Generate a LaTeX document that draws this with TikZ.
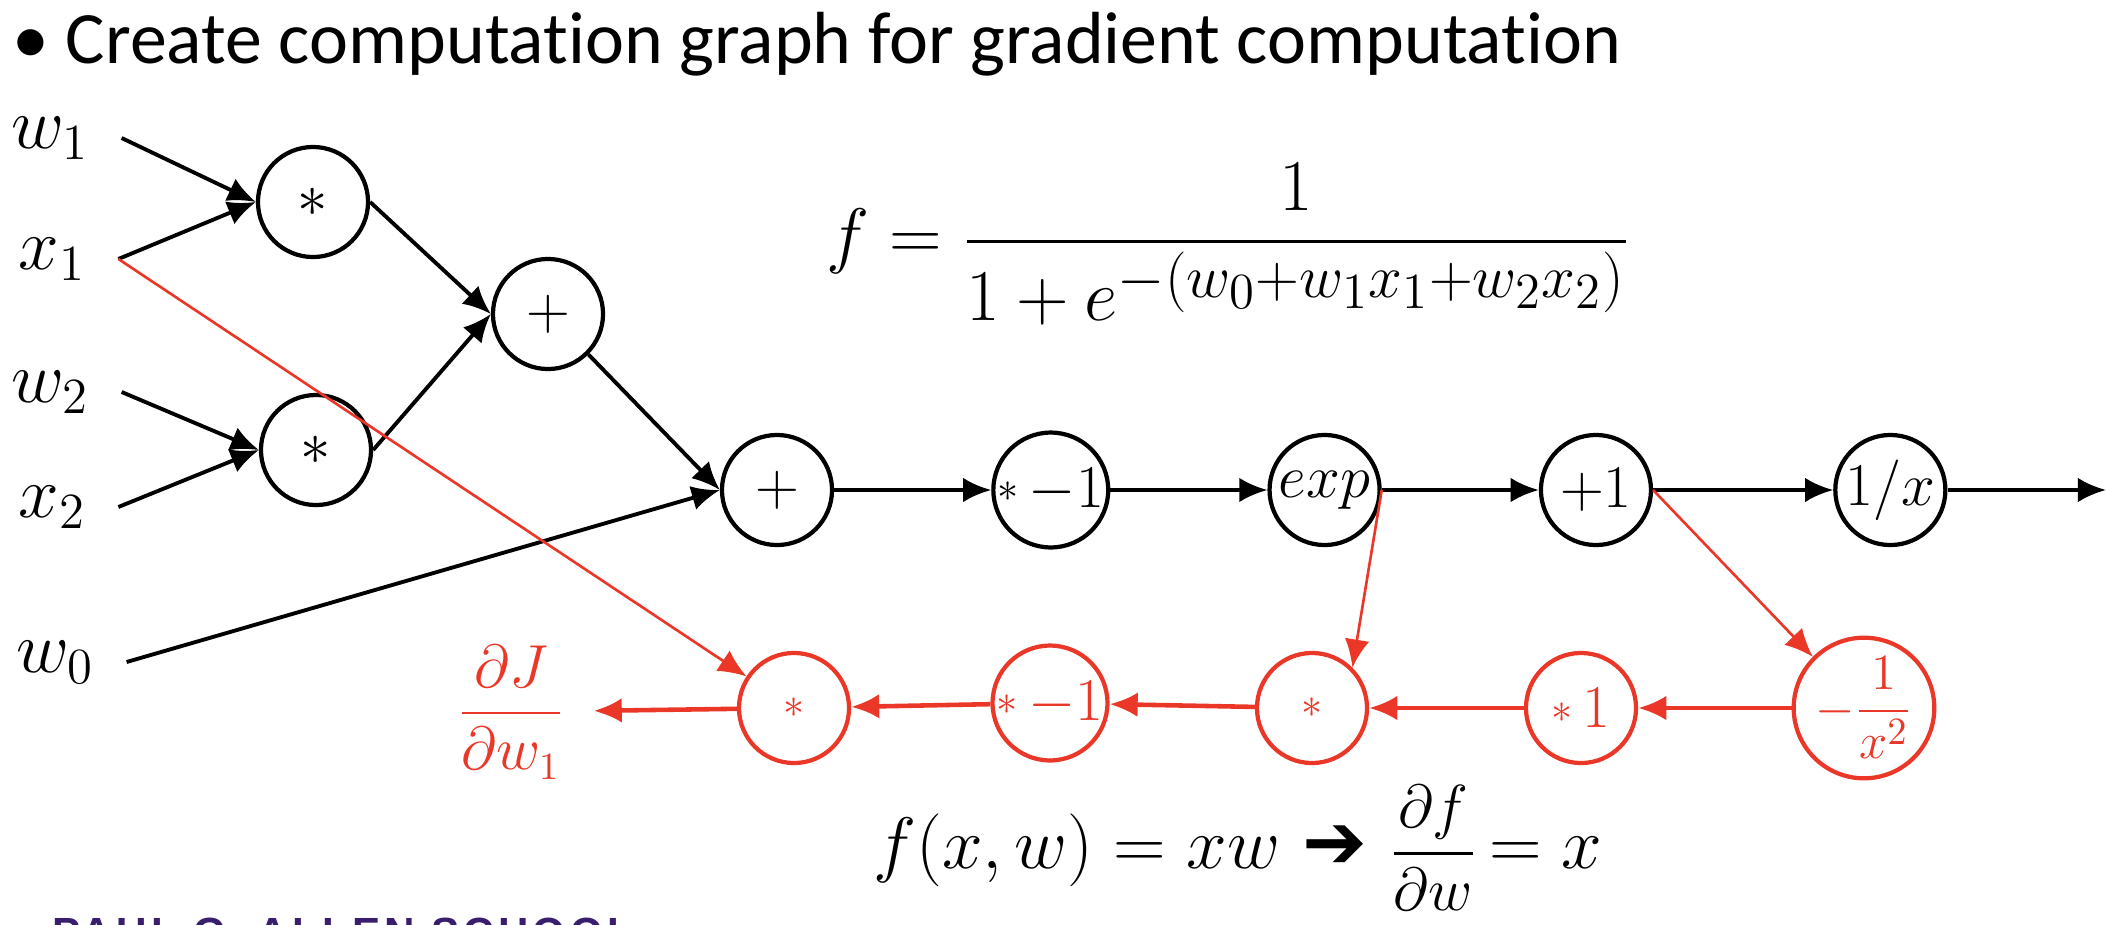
\documentclass[tikz,border=0pt]{standalone}
\usepackage{amsmath}
\usepackage{fontspec}
\newfontfamily\titlefont[Ligatures=NoCommon]{Carlito}
\newfontfamily\schoolfont[LetterSpace=10]{Liberation Sans}
\newfontfamily\arrowfont{DejaVu Sans}
\usetikzlibrary{positioning,arrows.meta}
\definecolor{gradred}{RGB}{234,55,40}
\definecolor{uwpurple}{RGB}{58,30,110}
\newcommand{\midstar}{\vcenter{\hbox{$\scriptstyle*$}}}

\begin{document}
\begin{tikzpicture}[
			x=0.01cm,y=-0.01cm,
			node distance=1.57cm,
			op/.style={
				draw,
				circle,
				line width=1.2pt,
				minimum size=1.1cm,
				inner sep=0pt,
				font=\fontsize{17}{20}\selectfont
			},
			gop/.style={op,draw=gradred,text=gradred},
			var/.style={
				font=\fontsize{21}{25}\selectfont,
				outer xsep=6pt
			},
			fwd/.style={->,line width=1.1pt},
			back/.style={->,gradred,line width=0.75pt},
			flow/.style={->,gradred,line width=1.3pt},
			>={Latex[length=8pt,width=7pt]}
			]
			
			\useasboundingbox (0,0) rectangle (2106,924);
			
			\node[anchor=base west,font=\titlefont\fontsize{21}{26}\selectfont] (title) at (0,64)
				{• Create computation graph for gradient computation};
			
			% inputs
			\node[var] (w1) at (50,138) {$w_1$};
			\node[var] (x1) at (52,259) {$x_1$};
			\node[var] (w2) at (50,392) {$w_2$};
			\node[var] (x2) at (52,507) {$x_2$};
			\node[var] (w0) at (55,662) {$w_0$};
			
			% forward graph
			\node[op,font=\fontsize{16}{20}\selectfont] (mul1) at (313,202) {$*$};
			\node[op,font=\fontsize{16}{20}\selectfont] (mul2) at (316,450) {$*$};
			\node[op,font=\fontsize{19}{22}\selectfont] (add1) at (548,314) {$+$};
			\node[op,font=\fontsize{19}{22}\selectfont] (add2) at (777,490) {$+$};
			\node[op,right=of add2] (neg) {$\midstar\,{-}1$};
			\node[op,right=of neg] (ex) {$exp$};
			\node[op,right=of ex] (inc) {$+1$};
			\node[op,right=1.8cm of inc] (inv) {$1/x$};
			\coordinate (out) at (2106,490);
			
			\node (sig) at (1228,244) {\fontsize{22}{26}\selectfont
				$f=\dfrac{1}{1+e^{\text{\fontsize{19}{22}\selectfont$-(w_0{+}w_1x_1{+}w_2x_2)$}}}$};
			
			% gradient graph
			\node[gop] (g5) at (1864,708) {\fontsize{15}{18}\selectfont$-\dfrac{1}{x^2}$};
			\node[gop] (g4) at (1581,708) {$\midstar\,1$};
			\node[gop] (g3) at (1312,708) {$\scriptstyle*$};
			\node[gop] (g2) at (1050,703) {$\midstar\,{-}1$};
			\node[gop] (g1) at (794,708) {$\scriptstyle*$};
			\node[var,text=gradred,font=\fontsize{16}{20}\selectfont,outer xsep=5pt] (dJ) at (511,712)
				{$\dfrac{\partial J}{\partial w_1}$};
			
			\node (rule) at (1238,848) {\fontsize{21}{25}\selectfont
				$f(x,w)=xw$\ {\arrowfont\fontsize{22}{24}\selectfont ➔}\
				{\fontsize{17}{20}\selectfont$\dfrac{\partial f}{\partial w}$}$\,=x$};
			
			\begin{scope}
				\clip (0,0) rectangle (2106,924);
				\node[anchor=north west,inner sep=0pt,text=uwpurple,
					font=\schoolfont\bfseries\fontsize{12}{14}\selectfont] (school) at (52,917)
					{PAUL G. ALLEN SCHOOL};
			\end{scope}
			
			\draw[fwd] (w1.east) -- (mul1.west);
			\draw[fwd] (x1.east) -- (mul1.west);
			\draw[fwd] (w2.east) -- (mul2.west);
			\draw[fwd] (x2.east) -- (mul2.west);
			\draw[fwd] (mul1.east) -- (add1.west);
			\draw[fwd] (mul2.east) -- (add1.west);
			\draw[fwd] (add1.south east) -- (add2.west);
			\draw[fwd] (w0.east) -- (add2.west);
			\draw[fwd] (add2) -- (neg);
			\draw[fwd] (neg) -- (ex);
			\draw[fwd] (ex) -- (inc);
			\draw[fwd] (inc) -- (inv);
			\draw[fwd] (inv) -- (out);
			
			\draw[back] (x1.east) -- (g1);
			\draw[back] (ex.east) -- (g3.north east);
			\draw[back] (inc.east) -- (g5.north west);
			\draw[flow] (g5) -- (g4);
			\draw[flow] (g4) -- (g3);
			\draw[flow] (g3) -- (g2);
			\draw[flow] (g2) -- (g1);
			\draw[flow] (g1) -- (dJ);
			
		\end{tikzpicture}
\end{document}
